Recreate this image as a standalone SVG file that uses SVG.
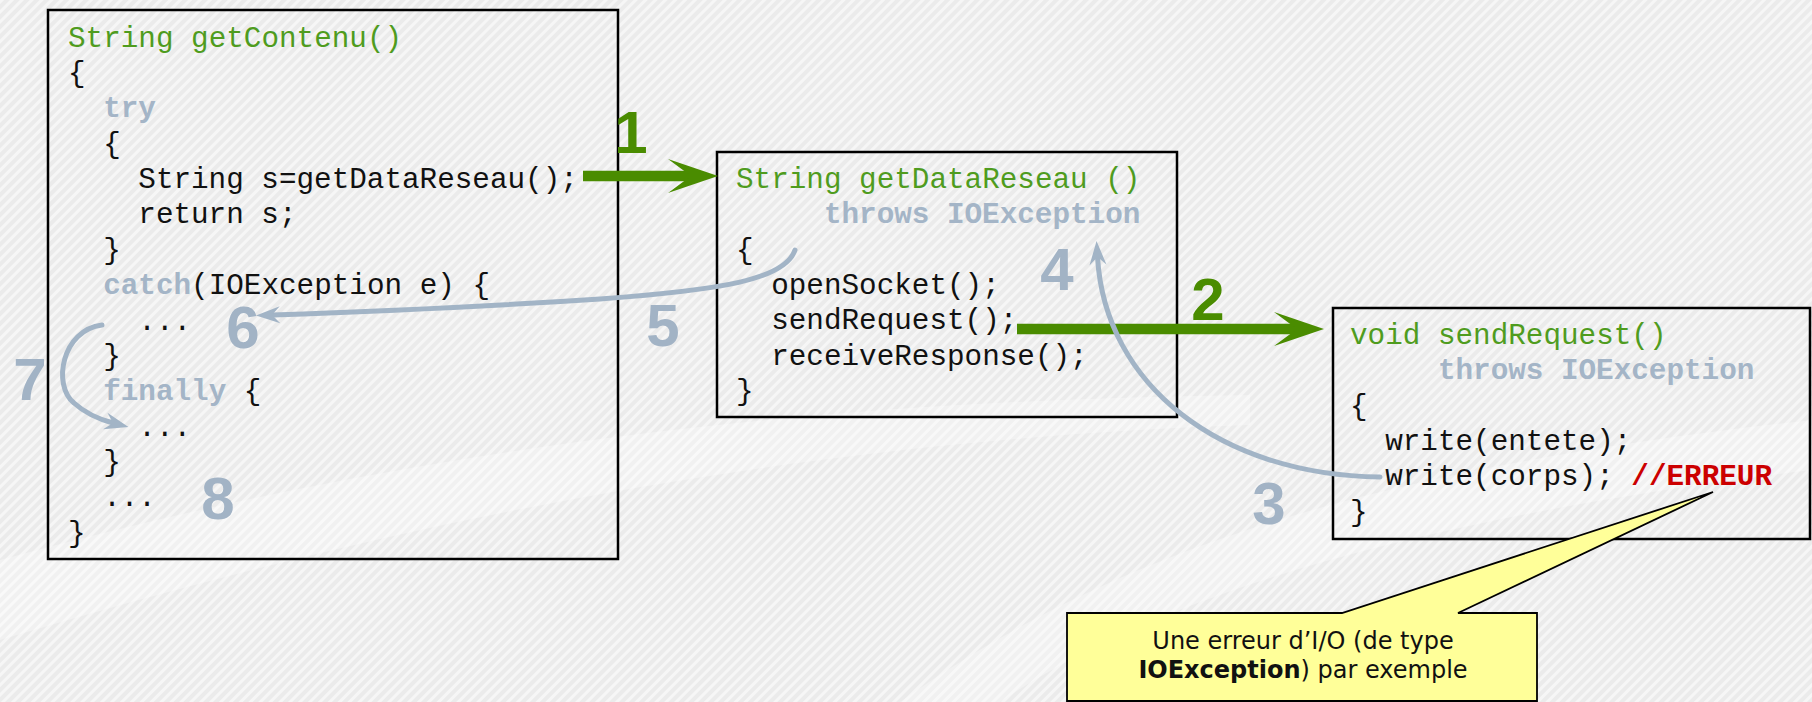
<svg xmlns="http://www.w3.org/2000/svg" width="1812" height="702" viewBox="0 0 1812 702">
<style>
.code{font-family:"Liberation Mono","Courier New",monospace;font-size:29.3px;fill:#111}
.sig{fill:#4f9c1e}
.kw{font-weight:bold;fill:#a4b5c7}
.err{font-weight:bold;fill:#cc0000}
.num{font-family:"Liberation Sans",Arial,sans-serif;font-weight:bold;font-size:60px;text-anchor:middle}
.g{fill:#4a8c00}
.b{fill:#a2b3c5}
.box{fill:none;stroke:#000;stroke-width:2.5}
.ga{fill:none;stroke:#4a8c00;stroke-width:10.5}
.ba{fill:none;stroke:#a2b4c6;stroke-width:5;stroke-linecap:round}
.note{font-family:"DejaVu Sans",Verdana,sans-serif;font-size:24px;fill:#111;text-anchor:middle}
</style>
<defs>
<pattern id="stripes" width="7" height="7" patternUnits="userSpaceOnUse" patternTransform="rotate(45)">
<rect width="7" height="7" fill="#ebebeb"/>
<rect width="3" height="7" fill="#f6f6f6"/>
</pattern>
<marker id="gh" markerUnits="userSpaceOnUse" viewBox="-24 -18 52 36" refX="0" refY="0" markerWidth="52" markerHeight="36" orient="auto">
<path d="M27,0 L-23,-17 L0,0 L-23,17 Z" fill="#4a8c00"/>
</marker>
<marker id="bh" markerUnits="userSpaceOnUse" viewBox="-9 -10 26 20" refX="0" refY="0" markerWidth="26" markerHeight="20" orient="auto">
<path d="M16,0 L-8,-8.5 L0,0 L-8,8.5 Z" fill="#a2b4c6"/>
</marker>
</defs>
<rect id="background" width="1812" height="702" fill="url(#stripes)"/>
<g id="swoosh" fill="#ffffff" opacity="0.3">
<path d="M0,560 C400,450 800,400 1250,395 L1250,425 C800,440 400,520 0,640 Z"/>
<path d="M900,702 C1100,560 1350,470 1812,420 L1812,470 C1400,520 1150,600 1000,702 Z"/>
</g>

<g id="getContenu">
<rect class="box" x="48" y="10" width="570" height="549"/>
<text class="code sig" x="68" y="46.7">String getContenu()</text>
<text class="code" x="68" y="82">{</text>
<text class="code kw" x="103.2" y="117.4">try</text>
<text class="code" x="103.2" y="152.7">{</text>
<text class="code" x="138.3" y="188.1">String s=getDataReseau();</text>
<text class="code" x="138.3" y="223.4">return s;</text>
<text class="code" x="103.2" y="258.8">}</text>
<text class="code" x="103.2" y="294.1"><tspan class="kw">catch</tspan>(IOException e) {</text>
<text class="code" x="138.3" y="329.5">...</text>
<text class="code" x="103.2" y="364.8">}</text>
<text class="code" x="103.2" y="400.2"><tspan class="kw">finally</tspan> {</text>
<text class="code" x="138.3" y="435.5">...</text>
<text class="code" x="103.2" y="470.9">}</text>
<text class="code" x="103.2" y="506.2">...</text>
<text class="code" x="68" y="541.6">}</text>
</g>

<g id="getDataReseau">
<rect class="box" x="717" y="152" width="460" height="265"/>
<text class="code sig" x="736" y="188">String getDataReseau ()</text>
<text class="code kw" x="823.9" y="223.3">throws IOException</text>
<text class="code" x="736" y="258.6">{</text>
<text class="code" x="771.2" y="293.9">openSocket();</text>
<text class="code" x="771.2" y="329.2">sendRequest();</text>
<text class="code" x="771.2" y="364.5">receiveResponse();</text>
<text class="code" x="736" y="399.8">}</text>
</g>

<g id="sendRequest">
<rect class="box" x="1333" y="308" width="477" height="231"/>
<text class="code sig" x="1350" y="344">void sendRequest()</text>
<text class="code kw" x="1437.9" y="379.3">throws IOException</text>
<text class="code" x="1350" y="414.6">{</text>
<text class="code" x="1385.2" y="449.9">write(entete);</text>
<text class="code" x="1385.2" y="485.2">write(corps); <tspan class="err">//ERREUR</tspan></text>
<text class="code" x="1350" y="520.5">}</text>
</g>

<g id="callout">
<path d="M1067,613 L1342,613 L1713,492 L1458,613 L1537,613 L1537,701 L1067,701 Z" fill="#ffff99" stroke="#000" stroke-width="1.8"/>
<text class="note" x="1303" y="649">Une erreur d’I/O (de type</text>
<text class="note" x="1303" y="678"><tspan font-weight="bold">IOException</tspan>) par exemple</text>
</g>

<g id="connectors">
<path class="ga" d="M583,176 L691,176" marker-end="url(#gh)"/>
<path class="ga" d="M1017,329 L1297,329" marker-end="url(#gh)"/>
<path class="ba" d="M1380,477 C1220,475 1105,385 1097.5,257" marker-end="url(#bh)"/>
<path class="ba" d="M795,250 C785,280 720,290 600,299 C480,307 360,312 272,315" marker-end="url(#bh)"/>
<path class="ba" d="M102,325 C62,330 52,385 74,403 C85,413 98,419 113,423" marker-end="url(#bh)"/>
</g>

<g id="labels">
<text class="num g" x="631" y="153">1</text>
<text class="num g" x="1208" y="320">2</text>
<text class="num b" x="1269" y="524">3</text>
<text class="num b" x="1057" y="290">4</text>
<text class="num b" x="663" y="346">5</text>
<text class="num b" x="243" y="348">6</text>
<text class="num b" x="30" y="400">7</text>
<text class="num b" x="218" y="519">8</text>
</g>
</svg>
